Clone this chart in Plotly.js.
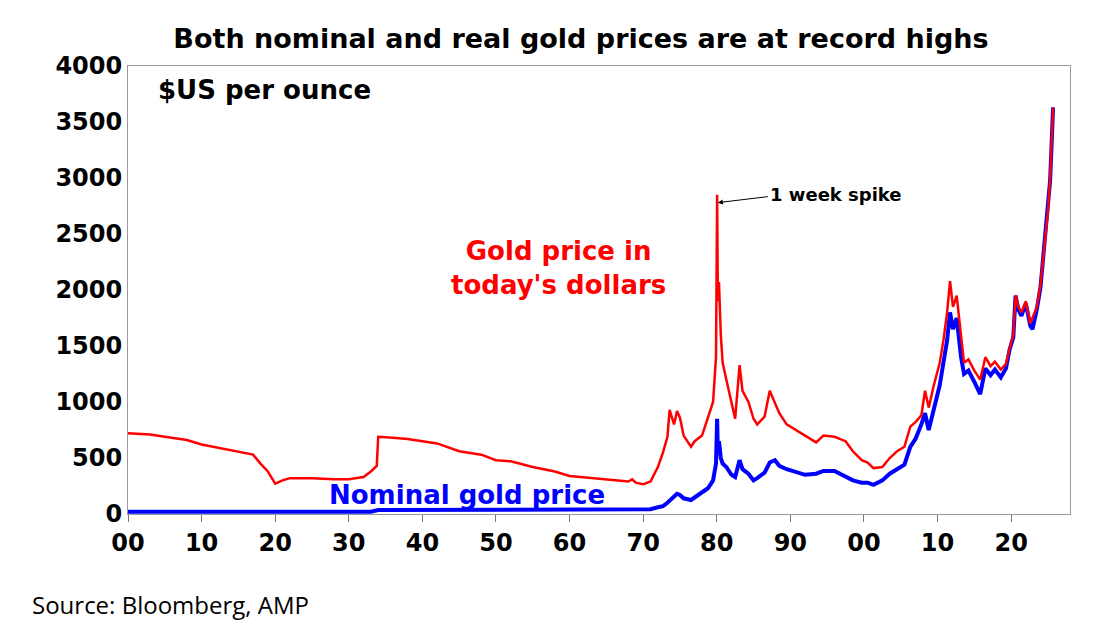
<!DOCTYPE html>
<html>
<head>
<meta charset="utf-8">
<script src="https://cdn.plot.ly/plotly-3.0.1.min.js"></script>
<style>body{margin:0;background:#fff}#chart{width:1113px;height:638px}</style>
</head>
<body>
<div id="chart"></div>
<script>
// real (today's dollars) gold price
const realYears = [1900, 1903, 1905, 1908, 1910, 1913, 1915, 1917, 1918, 1919, 1920, 1921, 1922, 1925, 1928, 1930, 1932, 1933, 1933.8, 1934, 1936, 1938, 1940, 1942, 1945, 1948, 1950, 1952, 1955, 1958, 1960, 1963, 1965, 1967, 1968, 1968.5, 1969, 1970, 1971, 1972, 1972.7, 1973.3, 1973.6, 1974.2, 1974.6, 1975, 1975.5, 1976.5, 1977, 1978, 1978.8, 1979.5, 1979.9, 1980.05, 1980.15, 1980.3, 1980.55, 1980.8, 1981.3, 1982, 1982.5, 1983.1, 1983.5, 1984.3, 1985, 1985.5, 1986.5, 1987.2, 1987.9, 1988.5, 1989.5, 1990.5, 1992, 1993.5, 1994.5, 1996, 1997.5, 1998.5, 1999.7, 2000.5, 2001.3, 2002.5, 2003.5, 2004.5, 2005.5, 2006.3, 2007, 2007.8, 2008.3, 2008.8, 2009.5, 2010.3, 2010.8, 2011.3, 2011.7, 2012.1, 2012.6, 2013.2, 2013.6, 2014.2, 2015, 2015.8, 2016.5, 2017.2, 2017.8, 2018.6, 2019.3, 2019.8, 2020.3, 2020.6, 2021, 2021.4, 2022, 2022.6, 2022.9, 2023.5, 2024, 2024.5, 2025, 2025.3, 2025.5, 2025.7];
const realPrice = [720, 710, 690, 660, 620, 580, 560, 530, 450, 380, 270, 300, 320, 320, 310, 310, 330, 380, 430, 690, 680, 670, 650, 630, 560, 530, 480, 470, 420, 380, 340, 320, 310, 300, 290, 310, 280, 265, 290, 420, 550, 690, 930, 800, 920, 860, 700, 600, 650, 700, 850, 1000, 1400, 2850, 1900, 2070, 1600, 1350, 1200, 1000, 850, 1330, 1100, 1000, 850, 800, 870, 1100, 990, 900, 800, 760, 700, 640, 700, 690, 650, 560, 480, 460, 410, 420, 500, 560, 600, 780, 820, 880, 1100, 950, 1150, 1350, 1550, 1800, 2080, 1850, 1950, 1600, 1350, 1380, 1280, 1200, 1400, 1320, 1360, 1290, 1340, 1480, 1600, 1950, 1850, 1800, 1900, 1700, 1750, 1850, 2050, 2400, 2700, 3000, 3300, 3630];
// nominal gold price
const nomYears = [1900, 1933, 1934, 1967, 1968, 1969, 1970, 1971, 1972, 1972.7, 1973.3, 1974.2, 1974.6, 1975, 1975.5, 1976.5, 1977, 1978, 1978.8, 1979.5, 1979.9, 1980.05, 1980.15, 1980.3, 1980.55, 1980.8, 1981.3, 1982, 1982.5, 1983.1, 1983.5, 1984.3, 1985, 1985.5, 1986.5, 1987.2, 1987.9, 1988.5, 1989.5, 1990.5, 1992, 1993.5, 1994.5, 1996, 1997.5, 1998.5, 1999.7, 2000.5, 2001.3, 2002.5, 2003.5, 2004.5, 2005.5, 2006.3, 2007, 2007.8, 2008.3, 2008.8, 2009.5, 2010.3, 2010.8, 2011.3, 2011.7, 2012.1, 2012.6, 2013.2, 2013.6, 2014.2, 2015, 2015.8, 2016.5, 2017.2, 2017.8, 2018.6, 2019.3, 2019.8, 2020.3, 2020.6, 2021, 2021.4, 2022, 2022.6, 2022.9, 2023.5, 2024, 2024.5, 2025, 2025.3, 2025.5, 2025.7];
const nomPrice = [20.67, 20.67, 35, 35, 40, 42, 36, 42, 60, 70, 100, 160, 180, 170, 140, 125, 150, 200, 230, 300, 450, 850, 550, 650, 500, 450, 420, 350, 330, 480, 400, 360, 300, 320, 370, 460, 480, 430, 400, 380, 350, 360, 385, 385, 330, 300, 280, 280, 260, 300, 360, 400, 440, 600, 670, 800, 900, 750, 950, 1150, 1350, 1550, 1800, 1650, 1750, 1400, 1250, 1280, 1180, 1070, 1300, 1240, 1290, 1220, 1300, 1470, 1580, 1950, 1820, 1770, 1880, 1680, 1650, 1830, 2030, 2380, 2680, 2980, 3300, 3630];
const xTickVals = [1900, 1910, 1920, 1930, 1940, 1950, 1960, 1970, 1980, 1990, 2000, 2010, 2020];
const xTickText = ["00", "10", "20", "30", "40", "50", "60", "70", "80", "90", "00", "10", "20"];

const data = [
  { x: nomYears, y: nomPrice, type: "scatter", mode: "lines", line: { color: "#0000ff", width: 4 } },
  { x: realYears, y: realPrice, type: "scatter", mode: "lines", line: { color: "#ff0000", width: 2.5 } },
];

const wide = "DejaVu Sans, Arial, sans-serif";
const layout = {
  width: 1113, height: 638,
  margin: { l: 128, r: 43, t: 66, b: 124 },
  showlegend: false,
  paper_bgcolor: "#fff", plot_bgcolor: "#fff",
  font: { family: wide, color: "#000" },
  title: { text: "<b>Both nominal and real gold prices are at record highs</b>", x: 0.522, xanchor: "center", y: 0.955, font: { size: 27 } },
  xaxis: {
    range: [1900, 2028], tickvals: xTickVals, ticktext: xTickText,
    ticks: "outside", ticklen: 7, tickcolor: "#777", showgrid: false, zeroline: false,
    showline: true, linecolor: "#999", mirror: true,
    tickfont: { size: 24, family: wide, weight: "bold" },
  },
  yaxis: {
    range: [0, 4000], dtick: 500, showgrid: false, zeroline: false,
    showline: true, linecolor: "#999", mirror: true, ticks: "",
    tickfont: { size: 24, family: wide, weight: "bold" },
  },
  annotations: [
    { xref: "paper", yref: "paper", x: 0.03, y: 0.985, xanchor: "left", yanchor: "top", showarrow: false, text: "<b>$US per ounce</b>", font: { size: 26 } },
    { x: 1958.5, y: 2200, showarrow: false, text: "<b>Gold price in<br>today's dollars</b>", font: { size: 26, color: "#ff0000" } },
    { x: 1946, y: 170, showarrow: false, text: "<b>Nominal gold price</b>", font: { size: 26, color: "#0000ff" } },
    { x: 1980.15, y: 2780, ax: 50, ay: -6, xanchor: "left", text: "", showarrow: true, arrowhead: 2, arrowsize: 1, arrowwidth: 1, arrowcolor: "#000" },
    { x: 1987, y: 2855, showarrow: false, xanchor: "left", text: "<b>1 week spike</b>", font: { size: 18 } },
    { xref: "paper", yref: "paper", x: -0.104, y: -0.16, xanchor: "left", yanchor: "top", showarrow: false, text: "Source: Bloomberg, AMP", font: { size: 24, family: "Open Sans, sans-serif" } },
  ],
};

Plotly.newPlot("chart", data, layout, { displayModeBar: false, staticPlot: true });
</script>
</body>
</html>
